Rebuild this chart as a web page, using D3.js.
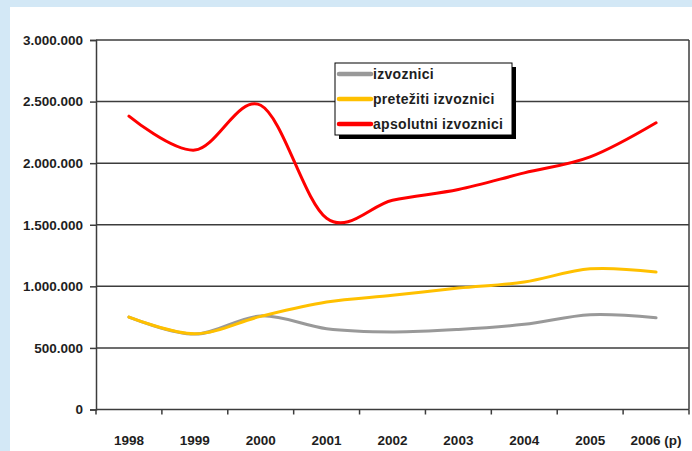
<!DOCTYPE html>
<html>
<head>
<meta charset="utf-8">
<script src="https://cdn.jsdelivr.net/npm/d3@7"></script>
<style>
  body { margin: 0; background: #d3e8f6; }
  svg text { font-family: Arial, "Liberation Sans", sans-serif; font-weight: bold; fill: #1e1e1e; }
</style>
</head>
<body>
<div id="chart"></div>
<script>
// chart data
var years = ["1998", "1999", "2000", "2001", "2002", "2003", "2004", "2005", "2006 (p)"];
var izvoznici = [750000, 612000, 760000, 656000, 630000, 650000, 692000, 770000, 745000];
var pretezitiIzvoznici = [750000, 615000, 756000, 872000, 927000, 986000, 1035000, 1142000, 1116000];
var apsolutniIzvoznici = [2382000, 2106000, 2470000, 1553000, 1699000, 1786000, 1921000, 2051000, 2328000];
var yTicks = [0, 500000, 1000000, 1500000, 2000000, 2500000, 3000000];

var series = [
    { name: "izvoznici", values: izvoznici, color: "#999999" },
    { name: "pretežiti izvoznici", values: pretezitiIzvoznici, color: "#ffc000" },
    { name: "apsolutni izvoznici", values: apsolutniIzvoznici, color: "#ff0000" }
];

function createChart(divName, width = 692, height = 451) {

    var plot = { left: 96, right: 689, top: 40, bottom: 409.5 };

    var svg = d3.select(divName).append("svg")
        .attr("width", width)
        .attr("height", height)
        .style("display", "block");

    // blue page frame + white panel
    svg.append("rect").attr("width", width).attr("height", height).attr("fill", "#d3e8f6");
    svg.append("rect").attr("x", 10).attr("y", 7)
        .attr("width", width - 10).attr("height", height - 7).attr("fill", "#ffffff");

    var x = d3.scaleBand().domain(years).range([plot.left, plot.right]);
    var y = d3.scaleLinear().domain([0, 3000000]).range([plot.bottom, plot.top]);

    var fmt = d3.formatLocale({ decimal: ",", thousands: ".", grouping: [3], currency: ["", ""] }).format(",");

    // gridlines
    svg.append("g").selectAll("line")
        .data(yTicks.filter(function (d) { return d > 0; }))
      .enter().append("line")
        .attr("x1", plot.left).attr("x2", plot.right)
        .attr("y1", function (d) { return y(d); })
        .attr("y2", function (d) { return y(d); })
        .attr("stroke", "#3c3c3c").attr("stroke-width", 1.5);

    // right border
    svg.append("line")
        .attr("x1", plot.right).attr("x2", plot.right)
        .attr("y1", plot.top).attr("y2", plot.bottom)
        .attr("stroke", "#3c3c3c").attr("stroke-width", 1.5);

    // y axis
    var yAxis = svg.append("g")
        .attr("transform", "translate(" + plot.left + ",0)")
        .call(d3.axisLeft(y).tickValues(yTicks).tickFormat(fmt).tickSize(6).tickPadding(7));
    yAxis.selectAll("line, path").attr("stroke", "#3c3c3c").attr("stroke-width", 1.5);
    yAxis.selectAll("text").style("font-size", "13.5px").attr("fill", "#1e1e1e");

    // x axis: ticks on category boundaries
    var xAxis = svg.append("g")
        .attr("transform", "translate(0," + plot.bottom + ")");
    xAxis.append("line")
        .attr("x1", plot.left).attr("x2", plot.right)
        .attr("stroke", "#3c3c3c").attr("stroke-width", 1.5);
    xAxis.selectAll(".tick")
        .data(years.concat([null]))
      .enter().append("line")
        .attr("x1", function (d, i) { return plot.left + i * x.step(); })
        .attr("x2", function (d, i) { return plot.left + i * x.step(); })
        .attr("y1", 0).attr("y2", 5)
        .attr("stroke", "#3c3c3c").attr("stroke-width", 1.5);
    xAxis.selectAll("text")
        .data(years)
      .enter().append("text")
        .attr("x", function (d) { return x(d) + x.bandwidth() / 2; })
        .attr("y", 35)
        .attr("text-anchor", "middle")
        .style("font-size", "13.5px")
        .text(function (d) { return d; });

    // lines
    var line = d3.line()
        .x(function (d, i) { return x(years[i]) + x.bandwidth() / 2; })
        .y(function (d) { return y(d); })
        .curve(d3.curveCardinal.tension(0));

    svg.append("g").selectAll("path")
        .data(series)
      .enter().append("path")
        .attr("d", function (d) { return line(d.values); })
        .attr("fill", "none")
        .attr("stroke", function (d) { return d.color; })
        .attr("stroke-width", 3)
        .attr("stroke-linecap", "round");

    // legend
    var lg = svg.append("g").attr("transform", "translate(335,63)");
    lg.append("rect").attr("x", 4).attr("y", 4).attr("width", 177).attr("height", 72).attr("fill", "#000");
    lg.append("rect").attr("width", 177).attr("height", 72)
        .attr("fill", "#fff").attr("stroke", "#000").attr("stroke-width", 1);
    var item = lg.selectAll(".item")
        .data(series)
      .enter().append("g")
        .attr("class", "item")
        .attr("transform", function (d, i) { return "translate(0," + (11 + i * 25) + ")"; });
    item.append("line")
        .attr("x1", 4).attr("x2", 36)
        .attr("stroke", function (d) { return d.color; })
        .attr("stroke-width", 4.5).attr("stroke-linecap", "round");
    item.append("text")
        .attr("x", 38).attr("y", 5)
        .style("font-size", "14px")
        .style("letter-spacing", "0.3px")
        .text(function (d) { return d.name; });
}

createChart("#chart");
</script>
</body>
</html>
